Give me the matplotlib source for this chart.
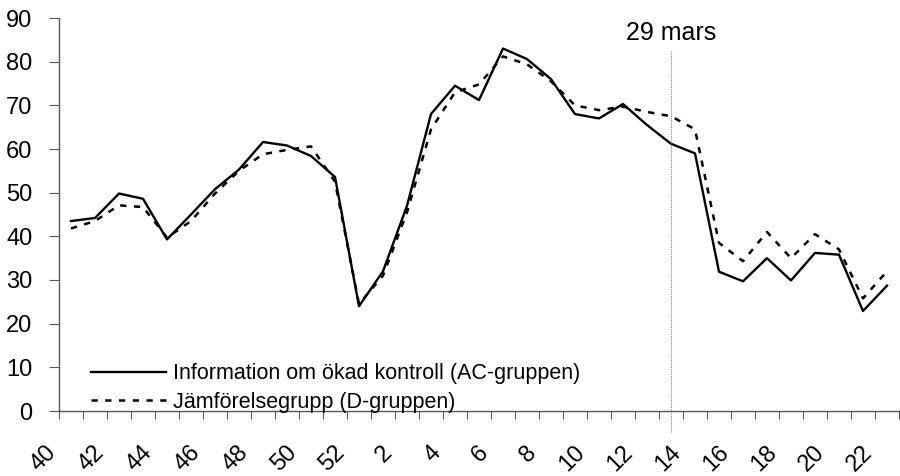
from matplotlib import pyplot as plt
from matplotlib.transforms import ScaledTranslation
import numpy as np

# Veckor 40-52 och 1-22
weeks = list(range(40, 53)) + list(range(1, 23))

ac_group = [43.5, 44.2, 49.8, 48.6, 39.3, 45.0, 50.8, 55.3, 61.6, 60.8, 58.4, 53.6,
            24.0, 32.0, 47.0, 68.0, 74.5, 71.2, 83.0, 80.6, 76.0, 68.0, 67.0, 70.3,
            65.5, 61.2, 59.0, 31.9, 29.7, 35.0, 29.9, 36.2, 35.8, 22.9, 28.7]
d_group = [41.8, 43.5, 47.1, 46.7, 39.7, 43.5, 49.8, 55.0, 58.8, 59.8, 60.6, 52.5,
           24.5, 31.0, 45.5, 64.5, 73.0, 74.8, 81.2, 79.4, 75.5, 70.0, 68.9, 69.7,
           68.5, 67.5, 64.5, 38.5, 34.3, 41.0, 35.0, 40.5, 37.0, 25.8, 32.0]

ac_label = 'Information om ökad kontroll (AC-gruppen)'
d_label = 'Jämförelsegrupp (D-gruppen)'
marker_week = 13
marker_text = '29 mars'

plt.rcParams['font.family'] = ['Liberation Sans', 'DejaVu Sans']
plt.rcParams['font.size'] = 17

fig = plt.figure(figsize=(9, 4.76), dpi=100)
ax = fig.add_axes([59/900, 1 - 411/476, 840/900, 393/476])

x = np.arange(len(weeks)) + 0.5
ax.plot(x, ac_group, color='black', lw=1.7, label=ac_label)
ax.plot(x, d_group, color='black', lw=1.8, linestyle=(0, (2.5, 3)), label=d_label)

# linje vid 29 mars
mx = weeks.index(marker_week) + 0.5
ax.plot([mx, mx], [-4.8, 82.4], color='gray', lw=0.8, linestyle=(0, (1, 1)), clip_on=False)
ax.text(mx, 86.5, marker_text, ha='center', va='center', fontsize=18)

ax.set_xlim(0, len(weeks))
ax.set_ylim(0, 90)
ax.set_yticks(range(0, 91, 10))
ax.set_xticks(np.arange(len(weeks) + 1))
ax.set_xticklabels([])
ax.set_xticks(x[::2], minor=True)
ax.set_xticklabels([str(w) for w in weeks[::2]], minor=True, rotation=45, ha='right', va='top')
ax.tick_params(axis='x', which='major', direction='out', length=6, color='#555555')
ax.tick_params(axis='x', which='minor', length=0, pad=22)
ax.tick_params(axis='y', direction='out', length=7, pad=12, color='#555555')
for lab in ax.get_xticklabels(minor=True):
    lab.set_transform(lab.get_transform() + ScaledTranslation(-10/100, 0, fig.dpi_scale_trans))

for s in ['top', 'right']:
    ax.spines[s].set_visible(False)
for s in ['left', 'bottom']:
    ax.spines[s].set_color('#555555')
    ax.spines[s].set_linewidth(1)

ax.legend(loc='lower left', bbox_to_anchor=(0.038, -0.005), frameon=False,
          fontsize=15.5, handlelength=3.5, handletextpad=0.3, labelspacing=0.35,
          borderpad=0, borderaxespad=0)

fig.savefig('out.png', dpi=100)
